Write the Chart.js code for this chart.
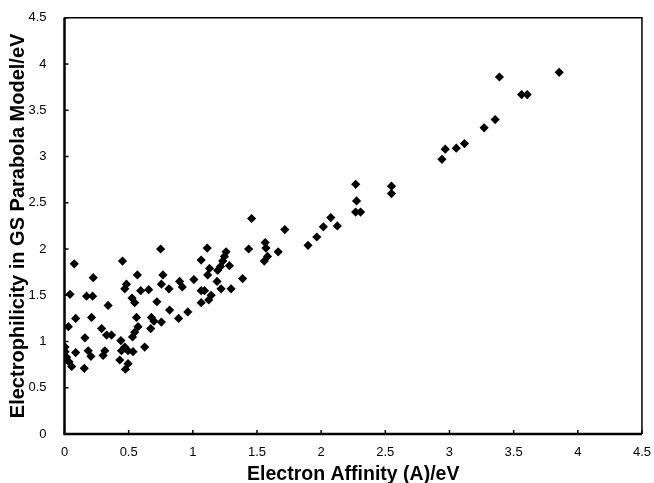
<!DOCTYPE html>
<html>
<head>
<meta charset="utf-8">
<script src="https://cdn.jsdelivr.net/npm/chart.js@4.4.1/dist/chart.umd.min.js"></script>
<style>
html,body{margin:0;padding:0;background:#fff;}
#wrap{width:654px;height:483px;}
</style>
</head>
<body>
<div id="wrap"><canvas id="c" width="654" height="483"></canvas></div>
<script>
const xValues = [0.749,0.076,0.452,1.065,0.224,0.568,0.767,0.897,1.008,0.483,0.470,0.755,0.814,0.594,0.656,1.065,0.043,0.172,0.219,0.526,0.547,0.720,0.340,1.065,0.819,0.961,0.561,0.677,0.889,0.087,0.211,0.697,0.755,0.030,0.573,0.289,0.672,0.328,0.366,0.547,0.530,0.159,0.439,0.470,0.444,0.625,0.004,0.004,0.087,0.185,0.206,0.314,0.301,0.495,0.534,0.017,0.035,0.056,0.154,0.431,0.495,0.475,
1.458,1.717,1.112,1.259,1.246,1.435,1.564,1.570,1.665,1.582,1.557,1.233,1.215,1.194,1.130,1.116,1.285,0.918,1.189,1.388,1.220,1.298,1.091,1.143,1.124,
2.269,2.276,2.269,2.307,2.548,2.548,2.075,2.017,2.126,1.966,1.898,
2.941,2.967,3.053,3.117,3.270,3.356,3.389,3.562,3.606,3.855];
const yValues = [2.00,1.84,1.87,1.88,1.69,1.72,1.72,1.65,1.67,1.62,1.57,1.62,1.57,1.55,1.56,1.55,1.51,1.49,1.49,1.47,1.42,1.43,1.39,1.42,1.34,1.32,1.26,1.26,1.25,1.25,1.26,1.22,1.21,1.16,1.16,1.14,1.14,1.07,1.07,1.10,1.05,1.04,1.01,0.94,0.90,0.94,0.94,0.89,0.88,0.90,0.84,0.90,0.85,0.90,0.89,0.83,0.78,0.73,0.71,0.80,0.76,0.70,
2.33,2.21,2.01,1.97,1.92,2.00,2.07,2.01,1.97,1.92,1.87,1.87,1.81,1.77,1.79,1.72,1.82,1.59,1.65,1.68,1.57,1.57,1.55,1.50,1.45,
2.70,2.52,2.40,2.40,2.68,2.60,2.34,2.24,2.25,2.13,2.04,
2.97,3.08,3.09,3.14,3.31,3.40,3.86,3.67,3.67,3.91];
const xTicks = ['0','0.5','1','1.5','2','2.5','3','3.5','4','4.5'];
const yTicks = ['0','0.5','1','1.5','2','2.5','3','3.5','4','4.5'];
const xTitle = 'Electron Affinity (A)/eV';
const yTitle = 'Electrophilicity in GS Parabola Model/eV';

const points = xValues.map((x,i)=>({x:x,y:yValues[i]}));

const framePlugin = {
  id:'frame',
  afterDatasetsDraw(chart){
    const {ctx, chartArea:a, scales} = chart;
    ctx.save();
    ctx.strokeStyle='#000';
    ctx.lineWidth=1.5;
    scales.x.ticks.forEach((t)=>{
      const px = scales.x.getPixelForValue(t.value);
      ctx.beginPath(); ctx.moveTo(px,a.bottom); ctx.lineTo(px,a.bottom-4); ctx.stroke();
    });
    scales.y.ticks.forEach((t)=>{
      const py = scales.y.getPixelForValue(t.value);
      ctx.beginPath(); ctx.moveTo(a.left,py); ctx.lineTo(a.left+4,py); ctx.stroke();
    });
    ctx.lineWidth=1.5;
    ctx.beginPath(); ctx.moveTo(a.left,a.top); ctx.lineTo(a.right,a.top); ctx.lineTo(a.right,a.bottom); ctx.stroke();
    ctx.lineWidth=2.5;
    ctx.beginPath(); ctx.moveTo(a.left,a.top); ctx.lineTo(a.left,a.bottom); ctx.lineTo(a.right,a.bottom); ctx.stroke();
    ctx.restore();
  }
};

new Chart(document.getElementById('c'),{
  type:'scatter',
  data:{datasets:[{data:points,pointStyle:'rectRot',pointRadius:4.6,pointHoverRadius:4.6,backgroundColor:'#000',borderColor:'#000',borderWidth:0}]},
  options:{
    responsive:false,animation:false,
    layout:{padding:{top:16,right:10,left:0,bottom:0}},
    plugins:{legend:{display:false},tooltip:{enabled:false}},
    scales:{
      x:{type:'linear',min:0,max:4.5,
        grid:{display:false},border:{display:false},
        ticks:{stepSize:0.5,color:'#000',padding:3,font:{family:'Liberation Sans',size:13},maxRotation:0,
          callback:(v,i)=>xTicks[i]},
        title:{display:true,text:xTitle,color:'#000',font:{family:'Liberation Sans',size:19.5,weight:'bold',lineHeight:1.0},padding:{top:0,bottom:-1}},
        afterFit(s){s.height=49;}
      },
      y:{type:'linear',min:0,max:4.5,
        grid:{display:false},border:{display:false},
        ticks:{stepSize:0.5,color:'#000',padding:10,font:{family:'Liberation Sans',size:13},
          callback:(v,i)=>yTicks[i]},
        title:{display:true,text:yTitle,color:'#000',font:{family:'Liberation Sans',size:20,weight:'bold',lineHeight:1.0},padding:{top:8,bottom:0}},
        afterFit(s){s.width=64.5;}
      }
    }
  },
  plugins:[framePlugin]
});
</script>
</body>
</html>
